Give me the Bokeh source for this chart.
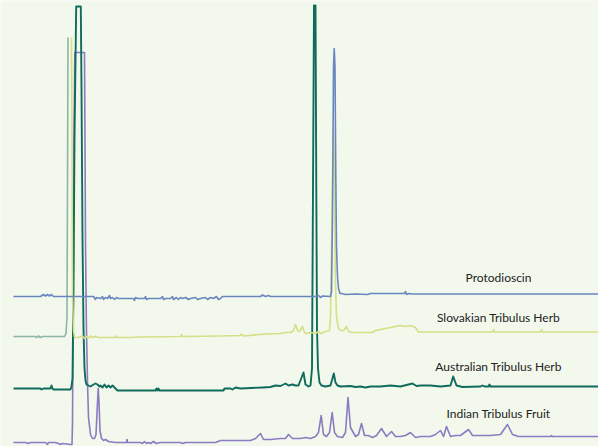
from bokeh.plotting import figure
from bokeh.models import Range1d, ColumnDataSource, Label
from bokeh.embed import file_html
from bokeh.resources import INLINE

# ---------------- data (retention time in min, signal in mAU above each trace's baseline) ----------------
trace_names = ["Protodioscin", "Slovakian Tribulus Herb", "Australian Tribulus Herb", "Indian Tribulus Fruit"]

protodioscin = [(1.3, 0), (4.0, 0), (4.3, 2), (4.5, 0.5), (4.7, 2), (4.9, 0.5), (5.1, 2), (5.3, 0),
                (9.3, 0), (9.5, -3), (9.6, -1), (10.0, -2), (10.2, 0), (10.3, -3), (10.5, -1), (10.7, -2),
                (10.9, 1), (11.0, -2), (11.2, -1), (11.4, -3), (11.6, -1), (11.8, -2), (12.0, -2), (13.3, -2),
                (13.4, -4), (13.5, -1), (13.7, -2), (14.4, -2), (14.5, 0), (14.6, -3), (14.8, -2), (16.0, -2),
                (16.2, 0), (16.3, -3), (16.5, -2), (17.0, -2), (17.2, 0), (17.3, -3), (17.6, -1), (17.8, -3),
                (18.0, -1), (18.2, -2), (18.5, -1), (18.8, -3), (19.0, -2), (19.5, -1), (19.7, -3), (20.0, -2),
                (20.5, -1), (20.7, -3), (21.0, -1), (21.3, -2), (21.6, 0), (21.8, -3), (22.0, -2), (22.2, 0),
                (26.0, 0), (26.2, 1.5), (26.5, 0), (26.8, 1), (27.0, 0), (31.6, 0), (31.8, 1), (32.0, -1),
                (32.2, 0.5), (33.0, 0), (33.1, 5), (33.2, 80), (33.3, 230), (33.37, 248), (33.45, 230),
                (33.53, 120), (33.6, 50), (33.7, 20), (33.8, 8), (33.95, 3), (34.1, 3), (34.5, 2), (35.5, 2.5),
                (36.7, 2), (37.0, 3), (40.4, 3), (40.5, 5), (40.6, 2), (40.8, 3), (41.2, 2.5), (59.8, 2.5)]

slovakian_front = [(1.3, 0), (3.5, 0), (3.6, -1), (3.8, 0.5), (4.0, -1), (4.2, 0), (6.4, 0),
                   (6.55, 3), (6.65, 20), (6.7, 150), (6.75, 299)]

slovakian = [(7.1, 299), (7.15, 200), (7.2, 40), (7.3, 6), (7.4, -1), (7.8, -1), (8.2, 0.5), (8.4, -2),
             (8.6, 0), (8.8, -1.5), (9.0, 0.5), (9.2, -1), (9.5, 0), (9.8, -1), (10.2, -1), (11.5, -1),
             (11.6, 0.5), (11.7, -1), (13.0, -1), (14.0, -0.5), (18.0, 0), (18.1, 2), (18.2, 0), (22.0, 0.5),
             (24.0, 1), (24.1, 2.5), (24.3, 0.5), (26.5, 2.5), (28.0, 3), (28.5, 4), (29.0, 4), (29.3, 6),
             (29.5, 12), (29.7, 6), (29.9, 5), (30.2, 10), (30.4, 4), (30.6, 3), (31.0, 4), (31.5, 3),
             (31.8, 5), (32.1, 3), (32.5, 5), (32.9, 6), (33.0, 20), (33.15, 120), (33.28, 208), (33.38, 180),
             (33.48, 60), (33.6, 20), (33.8, 8), (34.0, 6), (34.3, 6), (34.6, 10), (34.8, 5), (35.2, 4),
             (36.0, 4), (37.2, 4), (37.5, 6), (38.0, 7), (38.5, 8), (39.0, 9), (39.5, 10), (40.0, 11),
             (40.5, 10), (41.0, 11), (41.5, 9), (41.8, 4.5), (49.2, 4.5), (49.3, 7), (49.4, 4.5), (54.0, 4.5),
             (54.1, 7), (54.2, 4.5), (59.8, 4.5)]

australian = [(1.3, 0), (4.0, 0), (4.1, -1), (4.3, 0), (5.0, 0), (5.1, 3), (5.2, 0), (5.3, -1), (7.0, -1),
              (7.1, 2), (7.2, 10), (7.3, 100), (7.4, 250), (7.57, 382), (8.03, 382), (8.1, 300), (8.2, 150),
              (8.3, 60), (8.4, 20), (8.5, 8), (8.6, 4), (8.8, 3), (9.0, 2), (9.3, 4), (9.5, 5), (9.7, 4),
              (9.9, 2), (10.0, 3), (10.2, 1), (10.4, 4), (10.6, 1), (10.8, 3), (11.0, 1), (11.2, 3), (11.4, 1),
              (11.7, -2), (15.5, -2), (15.6, 0), (15.7, -2), (15.8, 0), (15.9, -2), (22.3, -2), (22.4, 0),
              (23.0, 0), (23.2, -1), (23.5, 1), (24.0, 0), (26.2, 1), (27.0, 1.5), (27.5, 3), (28.0, 2.5),
              (28.5, 5), (28.8, 3), (29.2, 4), (29.5, 3), (29.8, 3), (30.3, 16), (30.5, 4), (30.8, 2),
              (31.0, 3), (31.15, 20), (31.25, 200), (31.35, 383), (31.5, 383), (31.58, 200), (31.65, 60),
              (31.75, 20), (31.9, 6), (32.1, 3), (32.5, 2), (33.0, 3), (33.33, 15), (33.5, 6), (33.7, 3),
              (34.0, 2), (35.0, 2.5), (35.5, 1.5), (36.0, 2), (36.5, 1), (37.0, 2), (38.0, 2), (39.0, 3),
              (40.0, 2), (41.2, 5), (41.6, 2.5), (42.0, 3), (43.0, 3), (44.0, 2), (45.0, 3), (45.27, 12),
              (45.6, 3), (46.2, 1.5), (48.0, 2), (48.2, 3), (48.4, 2), (48.8, 2), (48.9, 4), (49.0, 2),
              (59.8, 2)]

indian = [(1.3, 0), (2.5, 0), (2.8, -1), (3.0, 0), (4.5, 0), (4.7, -2), (4.8, 0), (5.5, 0), (5.8, -1),
          (6.0, -2), (6.2, -1), (7.0, -2), (7.15, -2), (7.2, 20), (7.25, 100), (7.35, 300), (7.43, 390),
          (8.4, 390), (8.45, 300), (8.5, 200), (8.6, 110), (8.7, 60), (8.8, 25), (9.0, 8), (9.2, 4),
          (9.4, 4), (9.55, 8), (9.7, 40), (9.77, 54), (9.85, 40), (9.95, 12), (10.1, 4), (10.3, 2),
          (10.5, 3), (10.8, 1), (11.5, 0), (12.6, 0), (12.65, 3), (12.7, 0), (14.0, 0), (14.2, -1),
          (14.4, 1), (14.6, -1), (14.8, 0), (15.0, -1), (15.3, 1), (15.6, -1), (16.0, 0), (18.0, 0),
          (18.2, -1), (18.5, 0), (21.5, 0), (22.0, 2), (25.0, 2), (25.5, 4), (26.0, 9), (26.3, 3),
          (27.0, 3), (28.0, 4), (28.5, 4), (28.8, 8), (29.2, 4), (30.0, 4), (30.5, 5), (31.0, 4),
          (31.5, 6), (31.8, 10), (32.07, 27), (32.3, 8), (32.6, 6), (32.9, 10), (33.17, 30), (33.4, 10),
          (33.7, 6), (34.2, 5), (34.5, 10), (34.75, 45), (35.0, 15), (35.5, 6), (35.8, 8), (36.1, 19),
          (36.4, 7), (36.8, 7), (37.2, 5), (37.6, 7), (38.1, 14), (38.6, 6), (39.1, 11), (39.5, 6),
          (40.0, 6), (40.5, 7), (41.0, 10), (41.5, 5), (42.0, 6), (43.0, 6), (43.5, 8), (44.0, 12),
          (44.3, 6), (44.6, 16), (45.0, 6), (45.5, 7), (46.0, 7), (46.8, 13), (47.2, 7), (48.0, 7),
          (49.0, 7), (50.0, 8), (50.7, 18), (51.2, 8), (51.8, 6), (52.2, 6), (55.0, 6), (55.1, 7),
          (55.2, 6), (59.8, 6)]

# ---------------- layout / style ----------------
BG = "#f2f8ec"
OFFSETS = {"proto": 150, "slov": 110, "aus": 58, "ind": 4}
COLORS = {"proto": "#6a86be", "slov_front": "#8cb5a6", "slov": "#d5df86", "aus": "#0f6b5b", "ind": "#8b7bc2"}

p = figure(width=598, height=446, output_backend="svg", toolbar_location=None,
           x_range=Range1d(0, 59.8), y_range=Range1d(0, 446),
           min_border=0, min_border_left=0, min_border_right=0, min_border_top=0, min_border_bottom=0)
p.axis.visible = False
p.grid.visible = False
p.outline_line_color = None
p.background_fill_color = BG
p.border_fill_color = BG


def add_trace(points, offset, color, width=1.6):
    t = [a for a, _ in points]
    y = [b + offset for _, b in points]
    p.line(x="t", y="y", source=ColumnDataSource(dict(t=t, y=y)), line_color=color,
           line_width=width, line_join="round")


add_trace(indian, OFFSETS["ind"], COLORS["ind"])
add_trace(australian, OFFSETS["aus"], COLORS["aus"], 1.9)
add_trace(slovakian_front, OFFSETS["slov"], COLORS["slov_front"])
add_trace(slovakian, OFFSETS["slov"], COLORS["slov"])
add_trace(protodioscin, OFFSETS["proto"], COLORS["proto"])

label_y = [169, 129, 80, 33]
for name, ly in zip(trace_names, label_y):
    p.add_layout(Label(x=49.8, y=ly, text=name, text_align="center", text_baseline="middle",
                       text_font="Lato", text_font_size="12px", text_color="#222222"))

open("out.html", "w").write(file_html(p, INLINE))
